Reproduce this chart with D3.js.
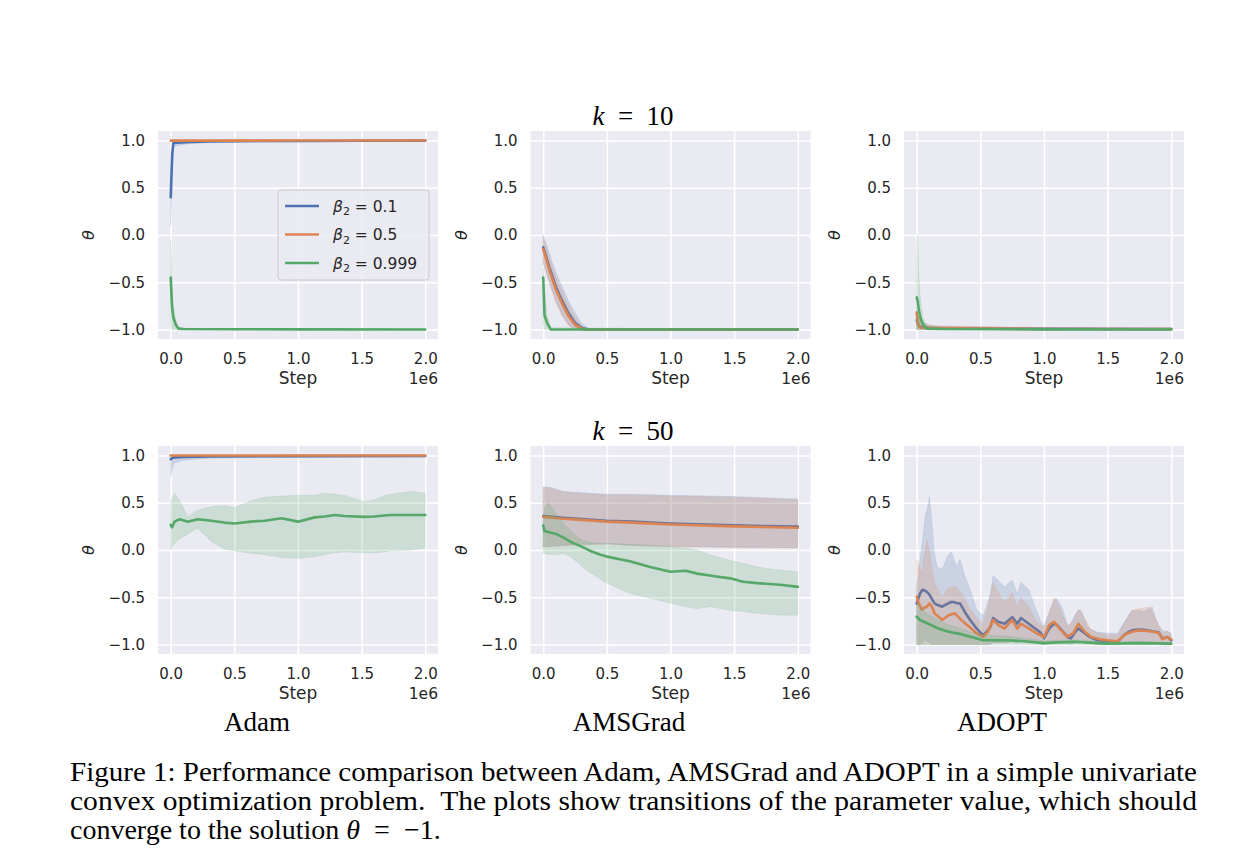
<!DOCTYPE html>
<html>
<head>
<meta charset="utf-8">
<script src="https://cdn.jsdelivr.net/npm/d3@7"></script>
<style>
  html, body { margin: 0; padding: 0; background: #ffffff; }
  svg { display: block; }
</style>
</head>
<body>
<svg id="chart" width="1254" height="868"></svg>
<script>
// ---------------- DATA ----------------
// each row: [step (x1e6), mean theta, lower band, upper band]
const optimizers = ["Adam", "AMSGrad", "ADOPT"];
const kValues = ["10", "50"];
const seriesLabels = ["0.1", "0.5", "0.999"];
const xTickValues = [0, 0.5, 1.0, 1.5, 2.0];
const xTickLabels = ["0.0", "0.5", "1.0", "1.5", "2.0"];
const yTickValues = [-1, -0.5, 0, 0.5, 1];
const yTickLabels = ["\u22121.0", "\u22120.5", "0.0", "0.5", "1.0"];

// ---- k = 10 ----
const adamK10_b01 = [
  [0, 0.40, 0.10, 0.45], [0.005, 0.60, 0.30, 0.80], [0.012, 0.85, 0.70, 0.97],
  [0.02, 0.97, 0.93, 0.995], [0.04, 0.975, 0.94, 0.995], [0.08, 0.98, 0.955, 0.998],
  [0.15, 0.985, 0.965, 1.0], [0.3, 0.99, 0.975, 1.0], [0.5, 0.993, 0.98, 1.0],
  [1.0, 0.995, 0.985, 1.0], [1.5, 0.997, 0.99, 1.0], [2.0, 0.998, 0.99, 1.0]
];
const adamK10_b05 = [
  [0, 0.998, 0.99, 1.0], [1.0, 0.999, 0.995, 1.0], [2.0, 0.999, 0.995, 1.0]
];
const adamK10_b0999 = [
  [0, -0.45, -0.95, -0.05], [0.01, -0.75, -1.0, -0.5], [0.02, -0.87, -1.0, -0.75],
  [0.04, -0.95, -1.0, -0.9], [0.06, -0.99, -1.0, -0.97], [0.1, -0.995, -1.0, -0.985],
  [0.5, -0.997, -1.0, -0.99], [1.0, -0.998, -1.0, -0.99], [2.0, -0.999, -1.0, -0.995]
];
const amsK10_b01 = [
  [0, -0.13, -0.30, 0.0], [0.05, -0.35, -0.50, -0.20], [0.1, -0.55, -0.70, -0.40],
  [0.15, -0.70, -0.85, -0.55], [0.2, -0.83, -0.95, -0.70], [0.25, -0.93, -1.0, -0.82],
  [0.3, -0.98, -1.0, -0.93], [0.35, -1.0, -1.0, -0.98], [0.4, -1.0, -1.0, -1.0],
  [2.0, -1.0, -1.0, -1.0]
];
const amsK10_b05 = [
  [0, -0.15, -0.30, -0.02], [0.05, -0.38, -0.52, -0.25], [0.1, -0.58, -0.72, -0.45],
  [0.15, -0.73, -0.86, -0.60], [0.2, -0.86, -0.96, -0.75], [0.25, -0.95, -1.0, -0.87],
  [0.3, -0.99, -1.0, -0.96], [0.33, -1.0, -1.0, -0.99], [2.0, -1.0, -1.0, -1.0]
];
const amsK10_b0999 = [
  [0, -0.45, -0.95, -0.35], [0.01, -0.85, -1.0, -0.60], [0.03, -0.93, -1.0, -0.85],
  [0.06, -1.0, -1.0, -0.98], [2.0, -1.0, -1.0, -1.0]
];
const adoptK10_b01 = [
  [0, -0.90, -1.0, -0.80], [0.02, -0.97, -1.0, -0.90], [0.1, -0.985, -1.0, -0.96],
  [0.5, -0.99, -1.0, -0.97], [1.0, -0.993, -1.0, -0.98], [2.0, -0.995, -1.0, -0.985]
];
const adoptK10_b05 = [
  [0, -0.82, -1.0, -0.80], [0.01, -0.95, -1.0, -0.85], [0.03, -0.98, -1.0, -0.93],
  [0.15, -0.985, -1.0, -0.96], [0.5, -0.99, -1.0, -0.97], [1.0, -0.995, -1.0, -0.98],
  [2.0, -0.995, -1.0, -0.985]
];
const adoptK10_b0999 = [
  [0, -0.66, -1.0, -0.30], [0.008, -0.70, -1.0, 0.0], [0.015, -0.78, -1.0, -0.40],
  [0.03, -0.88, -1.0, -0.70], [0.05, -0.95, -1.0, -0.88], [0.08, -0.99, -1.0, -0.96],
  [0.2, -0.995, -1.0, -0.98], [1.0, -0.998, -1.0, -0.99], [2.0, -0.999, -1.0, -0.99]
];

// ---- k = 50 ----
const adamK50_b01 = [
  [0, 0.96, 0.78, 1.0], [0.01, 0.97, 0.85, 1.0], [0.03, 0.98, 0.92, 1.0],
  [0.1, 0.985, 0.95, 1.0], [0.3, 0.99, 0.97, 1.0], [1.0, 0.993, 0.98, 1.0],
  [2.0, 0.995, 0.985, 1.0]
];
const adamK50_b05 = [
  [0, 0.999, 0.995, 1.0], [1.0, 0.999, 0.995, 1.0], [2.0, 0.999, 0.995, 1.0]
];
const adamK50_b0999 = [
  [0.0, 0.265, 0.0, 0.50], [0.01, 0.24, 0.03, 0.55], [0.03, 0.30, 0.07, 0.60],
  [0.07, 0.325, 0.12, 0.52], [0.136, 0.30, 0.17, 0.35], [0.21, 0.325, 0.23, 0.42],
  [0.32, 0.31, 0.09, 0.46], [0.42, 0.29, 0.01, 0.47], [0.5, 0.28, -0.01, 0.45],
  [0.63, 0.30, -0.035, 0.52], [0.74, 0.31, -0.05, 0.56], [0.87, 0.335, -0.08, 0.57],
  [1.0, 0.30, -0.09, 0.58], [1.13, 0.345, -0.07, 0.58], [1.21, 0.355, -0.05, 0.60],
  [1.29, 0.37, -0.03, 0.59], [1.36, 0.36, -0.02, 0.58], [1.52, 0.35, -0.03, 0.51],
  [1.6, 0.355, -0.03, 0.53], [1.68, 0.365, -0.02, 0.58], [1.73, 0.37, -0.01, 0.59],
  [1.89, 0.37, 0.0, 0.62], [2.0, 0.37, 0.02, 0.60]
];
const amsK50_b01 = [
  [0, 0.36, 0.035, 0.67], [0.05, 0.355, 0.04, 0.665], [0.16, 0.34, 0.05, 0.62],
  [0.5, 0.31, 0.07, 0.59], [0.7, 0.30, 0.05, 0.59], [1.0, 0.28, 0.04, 0.58],
  [1.5, 0.26, 0.03, 0.565], [2.0, 0.247, 0.025, 0.54]
];
const amsK50_b05 = [
  [0, 0.35, 0.03, 0.66], [0.05, 0.345, 0.035, 0.655], [0.16, 0.33, 0.045, 0.61],
  [0.5, 0.30, 0.06, 0.58], [0.7, 0.29, 0.045, 0.58], [1.0, 0.27, 0.035, 0.57],
  [1.5, 0.25, 0.025, 0.555], [2.0, 0.235, 0.02, 0.53]
];
const amsK50_b0999 = [
  [0.0, 0.26, -0.03, 0.30], [0.01, 0.20, -0.04, 0.45], [0.04, 0.19, -0.045, 0.50],
  [0.1, 0.17, -0.05, 0.39], [0.16, 0.13, -0.035, 0.28], [0.21, 0.09, -0.07, 0.21],
  [0.26, 0.06, -0.12, 0.15], [0.31, 0.03, -0.18, 0.10], [0.37, -0.01, -0.24, 0.08],
  [0.45, -0.05, -0.31, 0.07], [0.5, -0.07, -0.35, 0.07], [0.68, -0.12, -0.46, 0.06],
  [0.84, -0.18, -0.51, 0.05], [1.0, -0.23, -0.56, 0.035], [1.12, -0.22, -0.60, 0.02],
  [1.21, -0.25, -0.62, 0.0], [1.31, -0.27, -0.60, -0.05], [1.36, -0.28, -0.61, -0.07],
  [1.47, -0.30, -0.64, -0.11], [1.57, -0.335, -0.65, -0.14], [1.68, -0.35, -0.67, -0.18],
  [1.78, -0.36, -0.68, -0.20], [1.88, -0.37, -0.69, -0.215], [2.0, -0.39, -0.69, -0.23]
];
const adoptK50_b01 = [
  [0.0, -0.565, -1.0, -0.39], [0.026, -0.46, -1.0, -0.10], [0.045, -0.42, -0.98, 0.10],
  [0.065, -0.43, -0.95, 0.35], [0.085, -0.45, -0.97, 0.45], [0.1, -0.475, -0.98, 0.565],
  [0.12, -0.52, -1.0, 0.28], [0.14, -0.565, -1.0, -0.05], [0.16, -0.58, -1.0, -0.18],
  [0.2, -0.60, -1.0, -0.21], [0.24, -0.57, -1.0, -0.07], [0.27, -0.55, -1.0, -0.02],
  [0.29, -0.55, -1.0, -0.08], [0.31, -0.56, -1.0, -0.18], [0.34, -0.565, -1.0, -0.10],
  [0.38, -0.66, -1.0, -0.28], [0.42, -0.74, -1.0, -0.42], [0.47, -0.83, -1.0, -0.63],
  [0.52, -0.90, -1.0, -0.70], [0.56, -0.85, -1.0, -0.55], [0.58, -0.81, -1.0, -0.45],
  [0.6, -0.72, -0.98, -0.27], [0.64, -0.76, -0.98, -0.32], [0.69, -0.78, -0.98, -0.39],
  [0.75, -0.71, -0.97, -0.32], [0.79, -0.78, -0.98, -0.46], [0.82, -0.72, -0.97, -0.34],
  [0.88, -0.78, -0.98, -0.42], [0.93, -0.83, -0.99, -0.60], [0.97, -0.87, -0.99, -0.74],
  [1.0, -0.935, -1.0, -0.81], [1.04, -0.83, -0.98, -0.67], [1.08, -0.78, -0.97, -0.53],
  [1.1, -0.79, -0.97, -0.51], [1.14, -0.85, -0.98, -0.60], [1.19, -0.925, -0.99, -0.81],
  [1.21, -0.935, -1.0, -0.78], [1.25, -0.86, -0.98, -0.67], [1.27, -0.83, -0.97, -0.64],
  [1.29, -0.85, -0.97, -0.63], [1.31, -0.87, -0.98, -0.70], [1.34, -0.90, -0.99, -0.81],
  [1.36, -0.92, -0.99, -0.83], [1.42, -0.955, -1.0, -0.87], [1.5, -0.965, -1.0, -0.88],
  [1.58, -0.97, -1.0, -0.88], [1.63, -0.90, -0.99, -0.76], [1.65, -0.88, -0.98, -0.72],
  [1.69, -0.85, -0.97, -0.64], [1.75, -0.84, -0.97, -0.64], [1.78, -0.845, -0.97, -0.65],
  [1.83, -0.855, -0.97, -0.62], [1.85, -0.86, -0.97, -0.60], [1.88, -0.865, -0.98, -0.74],
  [1.9, -0.87, -0.98, -0.80], [1.93, -0.935, -0.99, -0.85], [1.97, -0.92, -0.99, -0.86],
  [2.0, -0.955, -1.0, -0.88]
];
const adoptK50_b05 = [
  [0.0, -0.495, -1.0, -0.10], [0.015, -0.56, -1.0, -0.15], [0.04, -0.63, -1.0, -0.25],
  [0.06, -0.61, -1.0, -0.05], [0.08, -0.60, -1.0, 0.10], [0.1, -0.565, -1.0, 0.0],
  [0.12, -0.60, -1.0, -0.20], [0.14, -0.67, -1.0, -0.35], [0.2, -0.74, -1.0, -0.50],
  [0.25, -0.69, -1.0, -0.40], [0.3, -0.67, -1.0, -0.38], [0.35, -0.74, -1.0, -0.45],
  [0.41, -0.81, -1.0, -0.60], [0.47, -0.88, -1.0, -0.72], [0.52, -0.92, -1.0, -0.78],
  [0.56, -0.865, -1.0, -0.60], [0.6, -0.74, -0.98, -0.35], [0.64, -0.795, -0.98, -0.45],
  [0.69, -0.83, -0.98, -0.55], [0.75, -0.74, -0.97, -0.45], [0.79, -0.83, -0.98, -0.60],
  [0.82, -0.78, -0.97, -0.50], [0.88, -0.83, -0.98, -0.60], [0.94, -0.88, -0.99, -0.75],
  [1.0, -0.92, -1.0, -0.82], [1.04, -0.795, -0.98, -0.65], [1.08, -0.76, -0.97, -0.50],
  [1.12, -0.83, -0.98, -0.60], [1.18, -0.92, -0.99, -0.80], [1.23, -0.88, -0.98, -0.75],
  [1.27, -0.78, -0.96, -0.63], [1.32, -0.865, -0.98, -0.72], [1.37, -0.92, -0.99, -0.85],
  [1.44, -0.945, -1.0, -0.88], [1.5, -0.955, -1.0, -0.90], [1.58, -0.965, -1.0, -0.90],
  [1.63, -0.90, -0.99, -0.78], [1.69, -0.865, -0.97, -0.64], [1.75, -0.85, -0.97, -0.62],
  [1.83, -0.86, -0.97, -0.60], [1.9, -0.875, -0.98, -0.78], [1.93, -0.945, -0.99, -0.88],
  [1.97, -0.92, -0.99, -0.86], [2.0, -0.945, -1.0, -0.89]
];
const adoptK50_b0999 = [
  [0.0, -0.705, -1.0, -0.55], [0.026, -0.74, -1.0, -0.60], [0.09, -0.78, -1.0, -0.68],
  [0.17, -0.83, -1.0, -0.74], [0.25, -0.865, -1.0, -0.79], [0.35, -0.89, -1.0, -0.83],
  [0.43, -0.92, -1.0, -0.87], [0.52, -0.955, -1.0, -0.90], [0.69, -0.955, -1.0, -0.91],
  [0.85, -0.965, -1.0, -0.93], [1.0, -0.985, -1.0, -0.96], [1.23, -0.97, -1.0, -0.95],
  [1.49, -0.99, -1.0, -0.97], [1.75, -0.985, -1.0, -0.97], [2.0, -0.99, -1.0, -0.98]
];

const captionLines = [
  "Figure 1: Performance comparison between Adam, AMSGrad and ADOPT in a simple univariate",
  "convex optimization problem.\u2002The plots show transitions of the parameter value, which should"
];

// ---------------- LAYOUT / STYLE ----------------
const colors = ["#4C72B0", "#DD8452", "#55A868"];
const panelData = [
  [[adamK10_b01, adamK10_b05, adamK10_b0999], [amsK10_b01, amsK10_b05, amsK10_b0999], [adoptK10_b01, adoptK10_b05, adoptK10_b0999]],
  [[adamK50_b01, adamK50_b05, adamK50_b0999], [amsK50_b01, amsK50_b05, amsK50_b0999], [adoptK50_b01, adoptK50_b05, adoptK50_b0999]]
];
const colLeft = [158, 530.5, 904];
const rowTop = [131, 446];
const PW = 280, PH = 208;
const tickFont = "DejaVu Sans, sans-serif";
const tickColor = "#262626";

const svg = d3.select("#chart");

panelData.forEach((row, r) => {
  row.forEach((seriesSet, c) => {
    const left = colLeft[c], top = rowTop[r];
    const x = d3.scaleLinear().domain([-0.1, 2.1]).range([0, PW]);
    const y = d3.scaleLinear().domain([-1.1, 1.1]).range([PH, 0]);
    const g = svg.append("g").attr("transform", `translate(${left},${top})`);

    g.append("rect").attr("width", PW).attr("height", PH).attr("fill", "#EAEAF2");

    // grid
    const gx = g.append("g").attr("transform", `translate(0,${PH})`)
      .call(d3.axisBottom(x).tickValues(xTickValues).tickSize(-PH).tickFormat(""));
    const gy = g.append("g")
      .call(d3.axisLeft(y).tickValues(yTickValues).tickSize(-PW).tickFormat(""));
    [gx, gy].forEach(a => {
      a.select(".domain").remove();
      a.selectAll("line").attr("stroke", "#ffffff").attr("stroke-width", 1.6);
    });

    const clipId = `clip-${r}-${c}`;
    g.append("clipPath").attr("id", clipId).append("rect").attr("width", PW).attr("height", PH);
    const plot = g.append("g").attr("clip-path", `url(#${clipId})`);

    const area = d3.area().x(d => x(d[0])).y0(d => y(d[2])).y1(d => y(d[3]));
    const line = d3.line().x(d => x(d[0])).y(d => y(d[1]));

    seriesSet.forEach((data, i) => {
      plot.append("path").datum(data).attr("d", line)
        .attr("fill", "none").attr("stroke", colors[i]).attr("stroke-width", 2.6)
        .attr("stroke-linejoin", "round").attr("stroke-linecap", "round");
      plot.append("path").datum(data).attr("d", area)
        .attr("fill", colors[i]).attr("fill-opacity", 0.2)
        .attr("stroke", colors[i]).attr("stroke-opacity", 0.12).attr("stroke-width", 1);
    });

    // axes with labels
    const ax = g.append("g").attr("transform", `translate(0,${PH})`)
      .call(d3.axisBottom(x).tickValues(xTickValues).tickSize(0).tickPadding(14)
        .tickFormat((d, i) => xTickLabels[i]));
    const ay = g.append("g")
      .call(d3.axisLeft(y).tickValues(yTickValues).tickSize(0).tickPadding(13)
        .tickFormat((d, i) => yTickLabels[i]));
    [ax, ay].forEach(a => {
      a.select(".domain").remove();
      a.selectAll("text").attr("font-family", tickFont).attr("font-size", 15)
        .attr("fill", tickColor);
    });

    g.append("text").attr("x", PW / 2).attr("y", PH + 45).attr("text-anchor", "middle")
      .attr("font-family", tickFont).attr("font-size", 17).attr("fill", tickColor).text("Step");
    g.append("text").attr("x", PW).attr("y", PH + 45).attr("text-anchor", "end")
      .attr("font-family", tickFont).attr("font-size", 15.5).attr("fill", tickColor).text("1e6");
    g.append("text").attr("transform", `translate(-64,${PH / 2}) rotate(-90)`)
      .attr("text-anchor", "middle").attr("font-family", tickFont).attr("font-style", "italic")
      .attr("font-size", 16).attr("fill", tickColor).text("\u03B8");

    // legend in first panel
    if (r === 0 && c === 0) {
      const lg = g.append("g").attr("transform", "translate(120,59)");
      lg.append("rect").attr("width", 151).attr("height", 90).attr("rx", 3)
        .attr("fill", "#EAEAF2").attr("fill-opacity", 0.8)
        .attr("stroke", "#cccccc").attr("stroke-width", 1);
      seriesLabels.forEach((lab, i) => {
        const yy = 16 + i * 28.5;
        lg.append("line").attr("x1", 7).attr("x2", 41).attr("y1", yy).attr("y2", yy)
          .attr("stroke", colors[i]).attr("stroke-width", 2.6);
        const t = lg.append("text").attr("x", 55).attr("y", yy + 5.5)
          .attr("font-family", tickFont).attr("font-size", 15.5).attr("fill", tickColor);
        t.append("tspan").attr("font-style", "italic").text("\u03B2");
        t.append("tspan").attr("font-size", 11).attr("dy", 3.5).text("2");
        t.append("tspan").attr("dy", -3.5).attr("xml:space", "preserve").text(" = " + lab);
      });
    }
  });
});

// row titles (k = ...)
const titleY = [125, 440];
kValues.forEach((k, r) => {
  const t = svg.append("text").attr("x", 633).attr("y", titleY[r]).attr("text-anchor", "middle")
    .attr("font-family", "Liberation Serif, Times New Roman, serif").attr("font-size", 27).attr("fill", "#000");
  t.append("tspan").attr("font-style", "italic").text("k");
  t.append("tspan").text("\u2002=\u2002" + k);
});

// column labels
const colLabelX = [257, 629, 1002];
optimizers.forEach((name, c) => {
  svg.append("text").attr("x", colLabelX[c]).attr("y", 731).attr("text-anchor", "middle")
    .attr("font-family", "Liberation Serif, Times New Roman, serif").attr("font-size", 27)
    .attr("fill", "#000").text(name);
});

// caption
const capFont = "Liberation Serif, Times New Roman, serif";
captionLines.forEach((line, i) => {
  svg.append("text").attr("x", 70).attr("y", 781 + i * 29)
    .attr("font-family", capFont).attr("font-size", 28).attr("fill", "#000")
    .attr("textLength", 1127).attr("lengthAdjust", "spacingAndGlyphs").text(line);
});
const last = svg.append("text").attr("x", 70).attr("y", 839)
  .attr("font-family", capFont).attr("font-size", 28).attr("fill", "#000");
last.append("tspan").text("converge to the solution ");
last.append("tspan").attr("font-style", "italic").text("\u03B8");
last.append("tspan").text("\u2002=\u2002\u22121.");
</script>
</body>
</html>
